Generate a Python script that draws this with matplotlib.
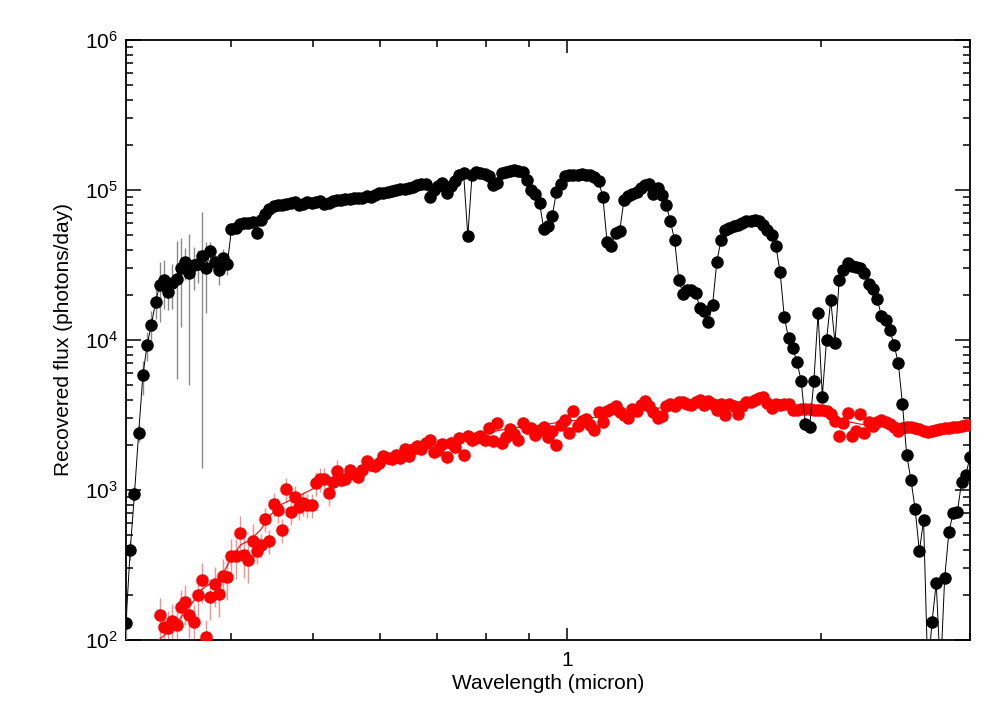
import numpy as np
import matplotlib
matplotlib.use("Agg")
import matplotlib.pyplot as plt
from matplotlib import ticker

# spectral bins: 201 log-spaced bins from 0.3 to 3 micron
wave = np.geomspace(0.3, 3.0, 201)

# recovered flux of the bright target (photons/day), one per bin
black_flux = [
    130, 400, 940, 2400, 5800, 9300, 12600, 17900, 23200, 25100,
    20900, 24100, 25500, 30200, 33100, 28000, 31600, 32000, 36300, 30200,
    39200, 33100, 29300, 35200, 32000, 55000, 55800, 59300, 60300, 60300,
    61300, 51700, 63100, 69200, 74700, 78300, 79400, 79400, 80400, 81700,
    82800, 79400, 80400, 82800, 81700, 83800, 84500, 80400, 81700, 84500,
    85800, 85800, 87100, 87100, 88400, 88400, 89000, 91200, 89800, 92700,
    94800, 95600, 97000, 97800, 100000, 101600, 101600, 102400, 104800, 108000,
    109000, 110000, 90200, 100000, 106000, 111000, 95600, 106000, 115000, 126000,
    129000, 49300, 126000, 131000, 130000, 128000, 124000, 108000, 111000, 130000,
    132000, 134000, 135000, 134000, 132000, 117000, 99300, 94000, 81900, 55000,
    57500, 67100, 97000, 110000, 124000, 126000, 126000, 126000, 127000, 126000,
    125000, 122000, 114000, 90000, 45000, 42500, 51900, 53500, 85800, 91200,
    94000, 97500, 103000, 108000, 110000, 94000, 103000, 92700, 79400, 62100,
    46400, 25100, 20300, 21400, 21600, 20700, 16300, 15600, 13200, 17100,
    33100, 46400, 54100, 55800, 57500, 58500, 60300, 62100, 61700, 62900,
    61700, 58500, 54100, 50100, 42300, 28400, 14200, 10300, 8850, 7130,
    5330, 2750, 2630, 5330, 15100, 4200, 10000, 18500, 9550, 25100,
    29300, 32400, 31000, 30700, 30400, 28000, 23600, 21900, 18800, 14500,
    13600, 11700, 9260, 7060, 3740, 1710, 1170, 747, 390, 630,
    60, 132, 240, 60, 259, 525, 703, 710, 1130, 1260,
    1660,
]
# error bars of the first 25 bins, then a flat fraction
black_err_blue = [
    30, 60, 100, 300, 1500, 2000, 3000, 4000, 10000, 9000,
    5000, 8000, 20000, 18000, 8000, 23000, 10000, 8000, 34900, 15000,
    6000, 5000, 6000, 5000, 5000,
]
black_err_frac = 0.05

# faint target, starts at bin 8
red_start = 8
red_flux = [
    147, 122, 120, 134, 126, 166, 179, 147, 132, 200,
    251, 105, 193, 236, 203, 267, 263, 363, 363, 517,
    369, 341, 457, 392, 430, 641, 457, 807, 736, 541,
    1016, 713, 898, 770, 819, 794, 794, 1110, 1180, 1190,
    955, 1130, 1340, 1170, 1190, 1360, 1280, 1220, 1360, 1560,
    1470, 1450, 1510, 1690, 1640, 1610, 1710, 1640, 1880, 1690,
    1880, 1970, 1880, 2060, 2150, 1790, 1840, 2030, 1660, 2070,
    1940, 2220, 1710, 2290, 2150, 2220, 2290, 2150, 2590, 2110,
    2800, 2060, 2250, 2550, 2360, 2150, 2800, 2590, 2590, 2330,
    2510, 2630, 2250, 2470, 2000, 2710, 2930, 2400, 3360, 2680,
    2880, 2960, 2710, 2510, 3310, 2850, 3360, 3470, 3630, 3310,
    3160, 3020, 3470, 3360, 3690, 3920, 3630, 3310, 3020, 3100,
    3630, 3740, 3630, 3860, 3860, 3740, 3690, 3860, 3980, 3690,
    3920, 3740, 3410, 3740, 3160, 3740, 3630, 3210, 3630, 3860,
    3860, 3980, 4100, 4170, 3800, 3520, 3740, 3690, 3740, 3740,
    3410, 3410, 3470, 3470, 3470, 3410, 3410, 3410, 3360, 3210,
    2880, 2290, 2800, 3260, 2290, 2470, 3210, 2400, 2850, 2680,
    2850, 2930, 2850, 2750, 2630, 2470, 2590, 2630, 2630, 2590,
    2550, 2470, 2440, 2470, 2510, 2550, 2590, 2590, 2630, 2630,
    2680, 2710, 2710,
]
red_err_frac = np.repeat([0.3, 0.18, 0.1, 0.07], [23, 20, 50, 100])

# smooth model through the faint target
model_wave = [0.328, 0.339, 0.348, 0.358, 0.368, 0.378, 0.388, 0.399, 0.410, 0.421,
              0.433, 0.445, 0.457, 0.470, 0.483, 0.510, 0.539, 0.569, 0.601, 0.634,
              0.670, 0.707, 0.747, 0.789, 0.833, 0.880, 0.929, 0.981, 1.036, 1.094,
              1.155, 1.220, 1.288, 1.360, 1.437, 1.517, 1.602, 1.692, 1.787, 1.887,
              1.993, 2.104, 2.222, 2.346, 2.478, 2.617, 2.763, 3.0]
model_flux = [100, 117, 140, 171, 215, 240, 259, 341, 430, 464,
              541, 681, 794, 858, 925, 1080, 1190, 1400, 1530, 1710,
              1900, 2030, 2150, 2330, 2510, 2630, 2680, 2850, 2930, 3100,
              3310, 3470, 3520, 3690, 3740, 3690, 3630, 3800, 3690, 3470,
              3310, 2930, 2750, 2680, 2590, 2510, 2550, 2630]

plt.rcParams['font.family'] = ['Liberation Sans', 'DejaVu Sans']
plt.rcParams['mathtext.fontset'] = 'custom'
plt.rcParams['mathtext.rm'] = 'Liberation Sans'
plt.rcParams['mathtext.it'] = 'Liberation Sans:italic'

black_flux = np.array(black_flux, dtype=float)
black_err = black_flux * black_err_frac
black_err[:len(black_err_blue)] = black_err_blue
red_flux = np.array(red_flux, dtype=float)
red_wave = wave[red_start:]
red_err = red_flux * red_err_frac

fig = plt.figure(figsize=(10.08, 7.2), dpi=100)
ax = fig.add_axes([126 / 1008, 80 / 720, 844 / 1008, 600 / 720])

ax.errorbar(red_wave, red_flux, yerr=red_err, fmt='none', ecolor='#ff8c8c',
            elinewidth=1.0, zorder=2)
ax.plot(model_wave, model_flux, color='red', lw=0.8, zorder=3)
ax.plot(red_wave, red_flux, 'o', color='red', ms=9, mec='none', zorder=4)

ax.errorbar(wave, black_flux, yerr=black_err, fmt='none', ecolor='#8a8a8a',
            elinewidth=1.0, zorder=5)
ax.plot(wave, black_flux, '-', color='black', lw=0.7, zorder=6)
ax.plot(wave, black_flux, 'o', color='black', ms=9, mec='none', zorder=7)

ax.set_xscale('log')
ax.set_yscale('log')
ax.set_xlim(0.3, 3.0)
ax.set_ylim(100, 1e6)
ax.xaxis.set_major_formatter(ticker.FormatStrFormatter('%g'))
ax.xaxis.set_minor_formatter(ticker.NullFormatter())

ax.tick_params(which='both', direction='in', top=True, right=True,
               labelsize=15, width=1.1, pad=6)
ax.tick_params(axis='y', which='major', length=11)
ax.tick_params(axis='y', which='minor', length=5)
ax.tick_params(axis='x', which='major', length=9)
ax.tick_params(axis='x', which='minor', length=5)
ax.tick_params(axis='x', which='major', pad=8)
for s in ax.spines.values():
    s.set_linewidth(1.3)

ax.set_xlabel('Wavelength (micron)', fontsize=15, labelpad=3)
ax.set_ylabel('Recovered flux (photons/day)', fontsize=15, labelpad=8)

fig.savefig('out.png', dpi=100)
